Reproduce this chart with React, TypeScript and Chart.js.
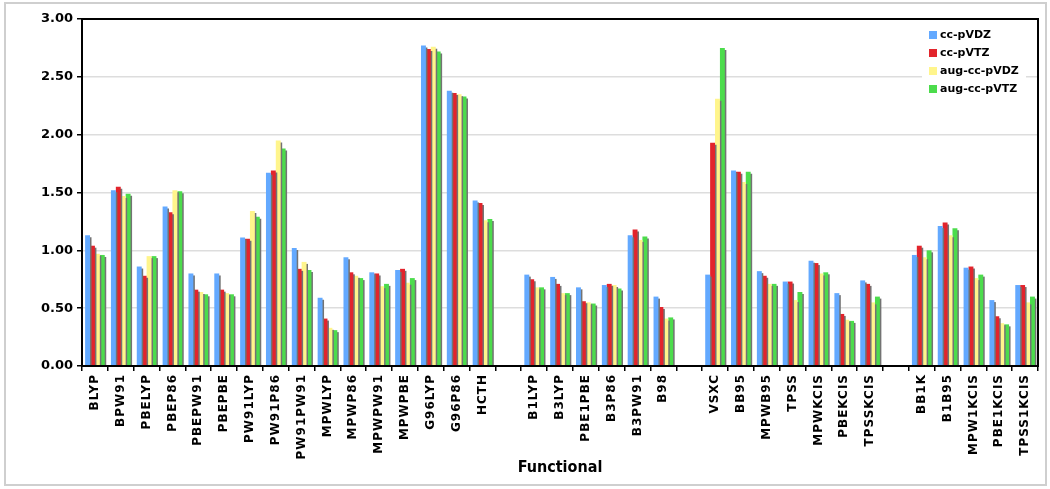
import React, { useEffect, useRef } from 'react';
import { Chart, registerables } from 'chart.js';

Chart.register(...registerables);

const W = 1050;
const H = 489;

const categories = [
  'BLYP', 'BPW91', 'PBELYP', 'PBEP86', 'PBEPW91', 'PBEPBE', 'PW91LYP', 'PW91P86', 'PW91PW91',
  'MPWLYP', 'MPWP86', 'MPWPW91', 'MPWPBE', 'G96LYP', 'G96P86', 'HCTH', '',
  'B1LYP', 'B3LYP', 'PBE1PBE', 'B3P86', 'B3PW91', 'B98', '',
  'VSXC', 'BB95', 'MPWB95', 'TPSS', 'MPWKCIS', 'PBEKCIS', 'TPSSKCIS', '',
  'BB1K', 'B1B95', 'MPW1KCIS', 'PBE1KCIS', 'TPSS1KCIS',
];

const ccpVDZ = [1.13, 1.52, 0.86, 1.38, 0.80, 0.80, 1.11, 1.67, 1.02, 0.59, 0.94, 0.81, 0.83, 2.77, 2.38, 1.43, null,
  0.79, 0.77, 0.68, 0.70, 1.13, 0.60, null,
  0.79, 1.69, 0.82, 0.73, 0.91, 0.63, 0.74, null,
  0.96, 1.21, 0.85, 0.57, 0.70];
const ccpVTZ = [1.04, 1.55, 0.78, 1.33, 0.66, 0.66, 1.10, 1.69, 0.84, 0.41, 0.81, 0.80, 0.84, 2.74, 2.36, 1.41, null,
  0.75, 0.71, 0.56, 0.71, 1.18, 0.51, null,
  1.93, 1.68, 0.78, 0.73, 0.89, 0.45, 0.71, null,
  1.04, 1.24, 0.86, 0.43, 0.70];
const augccpVDZ = [0.97, 1.47, 0.95, 1.52, 0.64, 0.63, 1.34, 1.95, 0.90, 0.33, 0.78, 0.69, 0.72, 2.76, 2.35, 1.26, null,
  0.68, 0.63, 0.55, 0.70, 1.09, 0.41, null,
  2.31, 1.59, 0.71, 0.57, 0.80, 0.40, 0.55, null,
  0.94, 1.13, 0.76, 0.37, 0.55];
const augccpVTZ = [0.96, 1.49, 0.95, 1.51, 0.62, 0.62, 1.29, 1.88, 0.83, 0.31, 0.76, 0.71, 0.76, 2.72, 2.33, 1.27, null,
  0.68, 0.63, 0.54, 0.67, 1.12, 0.42, null,
  2.75, 1.68, 0.71, 0.64, 0.81, 0.39, 0.60, null,
  1.00, 1.19, 0.79, 0.36, 0.60];

const seriesNames = ['cc-pVDZ', 'cc-pVTZ', 'aug-cc-pVDZ', 'aug-cc-pVTZ'];
const seriesColors = ['#63a9ff', '#e2242c', '#fff58c', '#4cdc4c'];
const yTicks = [0, 0.5, 1.0, 1.5, 2.0, 2.5, 3.0];

const FONT = "'DejaVu Sans'";

export default function App() {
  const ref = useRef<HTMLCanvasElement>(null);

  useEffect(() => {
    document.body.style.margin = '0';
    const canvas = ref.current!;

    const shadowPlugin = {
      id: 'barShadow',
      beforeDatasetsDraw(c: any) {
        const ctx = c.ctx;
        ctx.save();
        ctx.shadowColor = 'rgba(115,115,115,1)';
        ctx.shadowOffsetX = 1.5;
        ctx.shadowOffsetY = 2;
        ctx.shadowBlur = 0;
      },
      afterDatasetsDraw(c: any) {
        c.ctx.restore();
      },
    };

    const spacingPlugin = {
      id: 'labelSpacing',
      afterUpdate(c: any) {
        const xs: any = c.scales.x;
        if (xs && !xs.__patched) {
          const orig = xs.drawLabels.bind(xs);
          xs.drawLabels = (area: any) => {
            const ctx: any = c.ctx;
            ctx.save();
            ctx.letterSpacing = '1px';
            orig(area);
            ctx.restore();
          };
          xs.__patched = true;
        }
      },
    };

    const framePlugin = {
      id: 'frame',
      afterDraw(c: any) {
        const ctx = c.ctx;
        const a = c.chartArea;
        ctx.save();
        // outer light border
        ctx.strokeStyle = '#cfcfcf';
        ctx.lineWidth = 2;
        ctx.strokeRect(5, 3, W - 9, H - 7);
        // plot frame
        ctx.strokeStyle = '#000';
        ctx.lineWidth = 2;
        ctx.strokeRect(a.left, a.top, a.right - a.left, a.bottom - a.top);
        // legend
        ctx.fillStyle = '#fff';
        ctx.fillRect(922, 26, 104, 72);
        ctx.font = `bold 11px ${FONT}`;
        ctx.textBaseline = 'middle';
        ctx.textAlign = 'left';
        seriesNames.forEach((name, i) => {
          const y = 35 + i * 18;
          ctx.fillStyle = seriesColors[i];
          ctx.fillRect(929, y - 4, 8, 8);
          ctx.fillStyle = '#000';
          ctx.fillText(name, 940, y);
        });
        ctx.restore();
      },
    };

    const seriesData = [ccpVDZ, ccpVTZ, augccpVDZ, augccpVTZ];

    const chart = new Chart(canvas, {
      type: 'bar',
      data: {
        labels: categories,
        datasets: seriesNames.map((name, i) => ({
          label: name,
          data: seriesData[i],
          backgroundColor: seriesColors[i],
          borderWidth: 0,
          categoryPercentage: 0.76,
          barPercentage: 1.0,
        })),
      },
      options: {
        responsive: false,
        animation: false,
        events: [],
        layout: { padding: { top: 19, right: 12, left: 0, bottom: 0 } },
        plugins: {
          legend: { display: false },
          tooltip: { enabled: false },
          title: { display: false },
        },
        scales: {
          x: {
            offset: true,
            grid: {
              offset: true,
              drawOnChartArea: false,
              drawTicks: true,
              tickLength: 5,
              color: '#000',
              tickColor: '#000',
              lineWidth: 1.5,
            },
            border: { display: true, color: '#000', width: 2 },
            ticks: {
              autoSkip: false,
              maxRotation: 90,
              minRotation: 90,
              padding: 3,
              color: '#000',
              font: { family: FONT, weight: 'bold', size: 12 },
            },
            title: {
              display: true,
              text: 'Functional',
              color: '#000',
              font: { family: "'DejaVu Sans Condensed'", weight: 'bold', size: 16 },
              padding: { top: 0, bottom: 12 },
            },
            afterFit(scale: any) {
              scale.height = 123;
            },
          },
          y: {
            min: 0,
            max: 3,
            afterBuildTicks(scale: any) {
              scale.ticks = yTicks.map((v) => ({ value: v }));
            },
            grid: {
              color: '#dddddd',
              lineWidth: 1.5,
              tickColor: '#000',
              tickLength: 5,
              drawTicks: true,
            },
            border: { display: true, color: '#000', width: 2 },
            ticks: {
              padding: 4,
              color: '#000',
              font: { family: FONT, weight: 'bold', size: 13 },
              callback: (v: any) => Number(v).toFixed(2),
            },
            afterFit(scale: any) {
              scale.width = 82;
            },
          },
        },
      },
      plugins: [shadowPlugin, spacingPlugin, framePlugin],
    });

    chart.draw();

    return () => chart.destroy();
  }, []);

  return <canvas ref={ref} width={W} height={H} style={{ display: 'block' }} />;
}
